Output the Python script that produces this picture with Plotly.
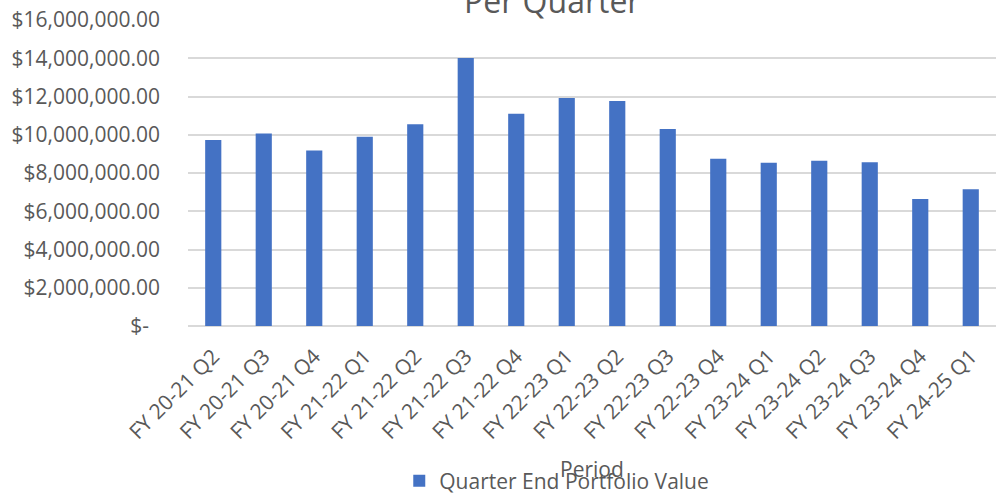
import plotly.graph_objects as go

periods = ["FY 20-21 Q2", "FY 20-21 Q3", "FY 20-21 Q4", "FY 21-22 Q1", "FY 21-22 Q2",
           "FY 21-22 Q3", "FY 21-22 Q4", "FY 22-23 Q1", "FY 22-23 Q2", "FY 22-23 Q3",
           "FY 22-23 Q4", "FY 23-24 Q1", "FY 23-24 Q2", "FY 23-24 Q3", "FY 23-24 Q4",
           "FY 24-25 Q1"]
values = [9730000, 10070000, 9180000, 9900000, 10550000, 14010000, 11100000, 11920000,
          11760000, 10300000, 8750000, 8540000, 8640000, 8560000, 6640000, 7150000]
ytick_vals = [0, 2000000, 4000000, 6000000, 8000000, 10000000, 12000000, 14000000, 16000000]
ytick_text = ["$-\u00a0\u00a0", "$2,000,000.00", "$4,000,000.00", "$6,000,000.00",
              "$8,000,000.00", "$10,000,000.00", "$12,000,000.00", "$14,000,000.00",
              "$16,000,000.00"]
series_name = "Quarter End Portfolio Value"
title_text = "Per Quarter"
x_title = "Period"

FONT = "Open Sans"
GREY = "#595959"

fig = go.Figure()
fig.add_trace(go.Bar(x=periods, y=values, name=series_name,
                     marker=dict(color="#4472C4", line=dict(width=0)),
                     showlegend=True))

fig.update_layout(
    width=996, height=495,
    margin=dict(l=188, r=0, t=20, b=169, autoexpand=False),
    paper_bgcolor="white", plot_bgcolor="white",
    bargap=0.68,
    font=dict(family=FONT, color=GREY, size=21),
    showlegend=True,
    legend=dict(orientation="h", x=0.559, xanchor="center", xref="container",
                y=-0.507, yanchor="middle", font=dict(size=21, color=GREY),
                bgcolor="rgba(0,0,0,0)"),
    xaxis=dict(tickangle=-45, tickfont=dict(size=21, color=GREY), showgrid=False,
               showline=False, ticks="", automargin=False, ticklabelstandoff=13),
    yaxis=dict(range=[0, 16000000], tickvals=ytick_vals, ticktext=ytick_text,
               tickfont=dict(size=21, color=GREY), showgrid=True, gridcolor="#D9D9D9",
               gridwidth=1.5, zeroline=True, zerolinecolor="#D9D9D9", zerolinewidth=1.5,
               showline=False, ticks="", automargin=False, ticklabelstandoff=27),
    annotations=[
        dict(text=title_text, x=(552 - 188) / 808, xref="paper", xanchor="center",
             y=1.064, yref="paper", yanchor="middle", showarrow=False,
             font=dict(size=32, color=GREY, family=FONT)),
        dict(text=x_title, x=0.5, xref="paper", xanchor="center",
             y=-0.467, yref="paper", yanchor="middle", showarrow=False,
             font=dict(size=21, color=GREY, family=FONT)),
    ],
)

fig.write_html("out.html", config={"displayModeBar": False},
               post_script="document.body.style.margin='0';document.body.style.overflow='hidden';")
